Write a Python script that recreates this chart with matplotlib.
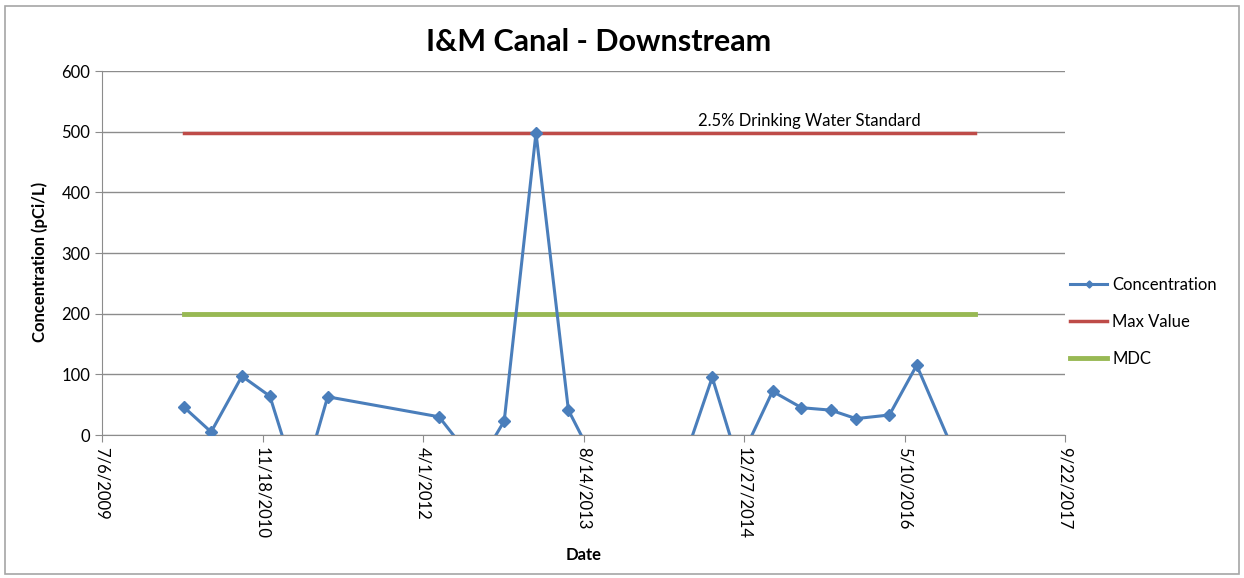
import datetime
import matplotlib
matplotlib.use("Agg")
import matplotlib.pyplot as plt
from matplotlib.patches import Rectangle

plt.rcParams['font.family'] = ['Lato', 'DejaVu Sans']

# sample dates and measured concentrations (pCi/L), negatives fall below the axis
dates = ["2010-03-18", "2010-06-11", "2010-09-15", "2010-12-11", "2011-03-15",
         "2011-06-09", "2012-05-21", "2012-09-18", "2012-12-10", "2013-03-19",
         "2013-06-28", "2014-03-03", "2014-09-19", "2014-12-10", "2015-03-26",
         "2015-06-24", "2015-09-23", "2015-12-11", "2016-03-24", "2016-06-17",
         "2016-12-16"]
concentration = [46, 5, 97, 64, -95, 63, 30, -51, 23, 498, 41, -216, 95, -47,
                 72, 45, 41, 27, 33, 115, -109]

max_value = 497
mdc = 200

tick_dates = ["2009-07-06", "2010-11-18", "2012-04-01", "2013-08-14",
              "2014-12-27", "2016-05-10", "2017-09-22"]
tick_labels = ["7/6/2009", "11/18/2010", "4/1/2012", "8/14/2013",
               "12/27/2014", "5/10/2016", "9/22/2017"]

x = [datetime.datetime.strptime(d, "%Y-%m-%d") for d in dates]
ticks = [datetime.datetime.strptime(d, "%Y-%m-%d") for d in tick_dates]

fig = plt.figure(figsize=(12.44, 5.78), dpi=100)
ax = fig.add_axes([102 / 1244, 1 - 435 / 578, (1065 - 102) / 1244, (435 - 71) / 578])

# outer chart border
fig.patches.append(Rectangle((5 / 1244, 4 / 578), 1234 / 1244, 568 / 578,
                             transform=fig.transFigure, fill=False,
                             edgecolor='#a6a6a6', linewidth=1.2))

ax.plot([x[0], x[-1]], [mdc, mdc], color='#98B954', linewidth=3.5, label='MDC', zorder=2)
ax.plot([x[0], x[-1]], [max_value, max_value], color='#BE4B48', linewidth=2.5,
        label='Max Value', zorder=2)
ax.plot(x, concentration, color='#4A7EBB', linewidth=2.2, marker='D', markersize=6,
        label='Concentration', zorder=3)

ax.set_ylim(0, 600)
ax.set_yticks(range(0, 601, 100))
ax.set_xlim(ticks[0], ticks[-1])
ax.set_xticks(ticks)
ax.set_xticklabels(tick_labels, rotation=270, ha='center', va='top')

ax.grid(axis='y', color='#8c8c8c', linewidth=1)
ax.set_axisbelow(True)
for s in ['top', 'right']:
    ax.spines[s].set_visible(False)
for s in ['left', 'bottom']:
    ax.spines[s].set_color('#8c8c8c')
ax.tick_params(axis='both', colors='#8c8c8c', labelcolor='black', labelsize=12, length=5)

ax.text(ticks[0] + datetime.timedelta(days=2205), 505, "2.5% Drinking Water Standard",
        ha='center', va='bottom', fontsize=12)

fig.text(599 / 1244, 1 - 42 / 578, "I&M Canal - Downstream", fontsize=22,
         fontweight='bold', ha='center', va='center')
ax.set_ylabel("Concentration (pCi/L)", fontsize=12, fontweight='bold')
ax.yaxis.set_label_coords(-54 / 963, (435 - 262) / 364)
ax.set_xlabel("Date", fontsize=12, fontweight='bold', labelpad=6)

handles, labels = ax.get_legend_handles_labels()
order = [2, 1, 0]
ax.legend([handles[i] for i in order], [labels[i] for i in order],
          loc='center left', bbox_to_anchor=(0.99, 0.31), frameon=False,
          fontsize=12, handlelength=2.2, labelspacing=1.25, handletextpad=0.3,
          markerscale=0.6)

fig.savefig("out.png", dpi=100)
